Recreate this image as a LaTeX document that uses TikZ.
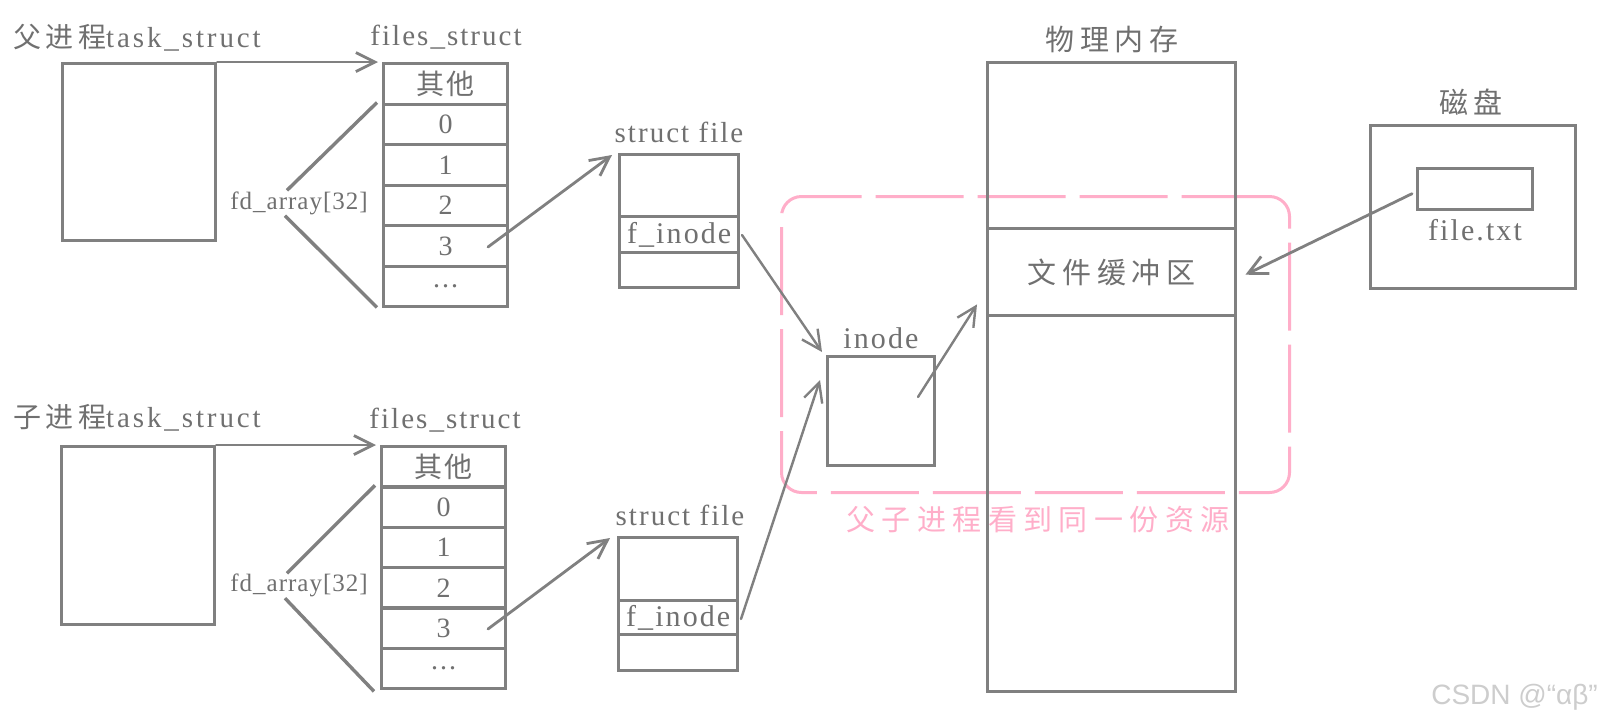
\documentclass[tikz,border=0pt]{standalone}
\usepackage{fontspec}
\setmainfont{Liberation Serif}
\newfontfamily\serifsp[LetterSpace=7]{Liberation Serif}
\newfontfamily\seriftask[LetterSpace=10]{Liberation Serif}
\newfontfamily\serifnarrow[LetterSpace=4]{Liberation Serif}
\newfontfamily\hansp[LetterSpace=16]{Noto Sans CJK SC}
\newfontfamily\hanlbl[LetterSpace=20]{Noto Sans CJK SC}
\newfontfamily\hantight[LetterSpace=8]{Noto Sans CJK SC}
\newfontfamily\hanwide[LetterSpace=22]{Noto Sans CJK SC}
\newfontfamily\marksans{Liberation Sans}
\usetikzlibrary{arrows.meta,calc}

\definecolor{linegray}{RGB}{128,128,128}
\definecolor{textgray}{RGB}{112,112,112}
\definecolor{pinkline}{RGB}{255,174,201}
\definecolor{markgray}{RGB}{205,205,205}

\newcommand\lbltext[1]{{\serifsp\fontsize{29}{33}\selectfont #1}}
\newcommand\tasktext[1]{{\seriftask\fontsize{29}{33}\selectfont #1}}
\newcommand\digittext[1]{{\serifsp\fontsize{28}{32}\selectfont #1}}
\newcommand\biglbl[1]{{\serifsp\fontsize{30}{34}\selectfont #1}}
\newcommand\fdtext[1]{{\serifnarrow\fontsize{25}{29}\selectfont #1}}
\newcommand\hantext[1]{{\hansp\fontsize{28}{32}\selectfont #1}}
\newcommand\hanlabel[1]{{\hanlbl\fontsize{29}{33}\selectfont #1}}
\newcommand\cellhan[1]{{\hantight\fontsize{28}{32}\selectfont #1}}
\newcommand\notehan[1]{{\hanwide\fontsize{29}{34}\selectfont #1}}

\begin{document}
\begin{tikzpicture}[x=1pt,y=-1pt,
  box/.style={draw=linegray,line width=3.4pt,inner sep=0pt,anchor=north west,text=textgray},
  lbl/.style={inner sep=0pt,text=textgray},
  conn/.style={draw=linegray,line width=2.8pt,line cap=round,line join=round,
    -{Straight Barb[length=19pt,width=19pt]}},
  thin conn/.style={conn,line width=2.4pt},
  brace line/.style={draw=linegray,line width=3.4pt}]

\fill[white] (0,0) rectangle (1602,716);
\useasboundingbox (0,0) rectangle (1602,716);

% region shared by both processes
\node[draw=pinkline,line width=3pt,rounded corners=20pt,dash pattern=on 88pt off 14pt,
  minimum width=508pt,minimum height=296pt,anchor=north west,inner sep=0pt] (shared) at (780,195) {};
\node[inner sep=0pt,text=pinkline] (sharednote) at (1038,520) {\notehan{父子进程看到同一份资源}};

% ---------- parent process ----------
\node[lbl,anchor=base west] (ptaskl) at (13,47) {\hantext{父进程}\tasktext{task\_struct}};
\node[box,minimum width=153pt,minimum height=177pt] (ptask) at (61,62) {};

\node[lbl,anchor=base] (pfilesl) at (446,45) {\lbltext{files\_struct}};
\node[box,minimum width=124pt,minimum height=40.5pt] (pf0) at (382,62) {\cellhan{其他}};
\node[box,minimum width=124pt,minimum height=40.5pt] (pf1) at (382,102.5) {\digittext{0}};
\node[box,minimum width=124pt,minimum height=40.5pt] (pf2) at (382,143) {\digittext{1}};
\node[box,minimum width=124pt,minimum height=40.5pt] (pf3) at (382,183.5) {\digittext{2}};
\node[box,minimum width=124pt,minimum height=40.5pt] (pf4) at (382,224) {\digittext{3}};
\node[box,minimum width=124pt,minimum height=40.5pt] (pf5) at (382,264.5) {\digittext{...}};

\node[lbl] (pfd) at (299,203) {\fdtext{fd\_array[32]}};
\draw[brace line] ($(pf1.north west)+(-5,0)$) -- ($(pfd.north)+(-12,-1)$);
\draw[brace line] ($(pfd.south)+(-14,1)$) -- ($(pf5.south west)+(-5,-1)$);

\node[lbl,anchor=base] (psfl) at (679,142) {\lbltext{struct file}};
\node[box,minimum width=119pt,minimum height=62pt] (psf0) at (618,153) {};
\node[box,minimum width=119pt,minimum height=36pt] (psf1) at (618,215) {\biglbl{f\_inode}};
\node[box,minimum width=119pt,minimum height=35pt] (psf2) at (618,251) {};

% ---------- child process ----------
\node[lbl,anchor=base west] (ctaskl) at (13,427) {\hantext{子进程}\tasktext{task\_struct}};
\node[box,minimum width=153pt,minimum height=178pt] (ctask) at (60,445) {};

\node[lbl,anchor=base] (cfilesl) at (445,428) {\lbltext{files\_struct}};
\node[box,minimum width=124pt,minimum height=40.33pt] (cf0) at (380,445) {\cellhan{其他}};
\node[box,minimum width=124pt,minimum height=40.33pt] (cf1) at (380,485.33) {\digittext{0}};
\node[box,minimum width=124pt,minimum height=40.33pt] (cf2) at (380,525.67) {\digittext{1}};
\node[box,minimum width=124pt,minimum height=40.33pt] (cf3) at (380,566) {\digittext{2}};
\node[box,minimum width=124pt,minimum height=40.33pt] (cf4) at (380,606.33) {\digittext{3}};
\node[box,minimum width=124pt,minimum height=40.33pt] (cf5) at (380,646.67) {\digittext{...}};

\node[lbl] (cfd) at (299,585) {\fdtext{fd\_array[32]}};
\draw[brace line] ($(cf1.north west)+(-5,0)$) -- ($(cfd.north)+(-12,0)$);
\draw[brace line] ($(cfd.south)+(-14,1.5)$) -- ($(cf5.south west)+(-6,1)$);

\node[lbl,anchor=base] (csfl) at (680,525) {\lbltext{struct file}};
\node[box,minimum width=119pt,minimum height=63pt] (csf0) at (617,536) {};
\node[box,minimum width=119pt,minimum height=34pt] (csf1) at (617,599) {\biglbl{f\_inode}};
\node[box,minimum width=119pt,minimum height=36pt] (csf2) at (617,633) {};

% ---------- inode ----------
\node[lbl,anchor=base] (inodel) at (881,348) {\biglbl{inode}};
\node[box,minimum width=107pt,minimum height=109pt] (inode) at (826,355) {};

% ---------- physical memory ----------
\node[lbl] (meml) at (1112,40) {\hanlabel{物理内存}};
\node[box,minimum width=248pt,minimum height=166pt] (m0) at (986,61) {};
\node[box,minimum width=248pt,minimum height=87pt] (mbuf) at (986,227) {\hanlabel{文件缓冲区}};
\node[box,minimum width=248pt,minimum height=376pt] (m2) at (986,314) {};

% ---------- disk ----------
\node[lbl] (diskl) at (1471,102) {\hanlabel{磁盘}};
\node[box,minimum width=205pt,minimum height=163pt] (disk) at (1369,124) {};
\node[box,minimum width=115pt,minimum height=41pt] (dfile) at (1416,167) {};
\node[lbl,anchor=base] (dfilel) at (1475,240) {\biglbl{file.txt}};

% ---------- connectors ----------
\coordinate (p3out) at (488,247);
\coordinate (pfiout) at (742,235);
\coordinate (c3out) at (488,629);
\coordinate (cfiout) at (741,619);
\coordinate (inodeout) at (918,397);

\draw[conn] (ptask.north east) -- ($(pf0.north west)+(-4,0)$);
\draw[conn] (ctask.north east) -- ($(cf0.north west)+(-4,0)$);
\draw[conn] (p3out) -- ($(psf0.north west)+(-6,2)$);
\draw[conn] (c3out) -- ($(csf0.north west)+(-7,2)$);
\draw[thin conn] (pfiout) -- ($(inode.north west)+(-4,-3)$);
\draw[thin conn] (cfiout) -- ($(inode.north west)+(-6,25)$);
\draw[thin conn] (inodeout) -- ($(mbuf.south west)+(-9,-13)$);
\draw[conn] ($(dfile.west)+(-4,4.5)$) -- ($(mbuf.east)+(8,2.5)$);

% author mark
\node[inner sep=0pt,text=markgray,anchor=east] (mark) at (1598,697)
  {\marksans\fontsize{28}{32}\selectfont CSDN @“αβ”};
\end{tikzpicture}
\end{document}
